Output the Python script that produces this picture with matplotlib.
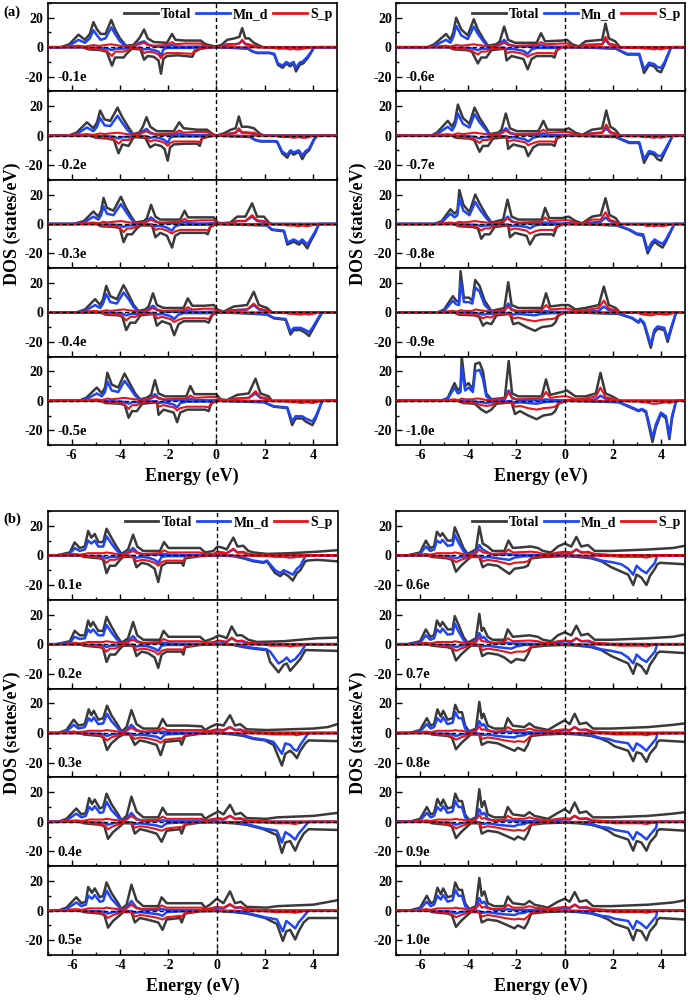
import matplotlib
matplotlib.use("Agg")
import matplotlib.pyplot as plt
from matplotlib.ticker import MultipleLocator
from matplotlib.lines import Line2D

plt.rcParams['font.family'] = ['Liberation Serif', 'DejaVu Serif']
plt.rcParams['font.weight'] = 'bold'
plt.rcParams['axes.unicode_minus'] = False

# ---------------- data: rows are [Energy, Total, Mn_d, S_p] ----------------
labels_a_left = ["-0.1e", "-0.2e", "-0.3e", "-0.4e", "-0.5e"]
labels_a_right = ["-0.6e", "-0.7e", "-0.8e", "-0.9e", "-1.0e"]
labels_b_left = ["0.1e", "0.2e", "0.3e", "0.4e", "0.5e"]
labels_b_right = ["0.6e", "0.7e", "0.8e", "0.9e", "1.0e"]
legend_labels = ["Total", "Mn_d", "S_p"]

spin_up = {}
spin_dn = {}

spin_up["-0.1e"] = [[-7,0,0,0],[-6.45,0,0,0],[-6.1,2,1,0.5],[-5.72,8.5,5,1],[-5.45,5,3,0.5],[-5.25,9,6,1],[-5.1,17,11.5,1.5],[-4.95,12,8,1],[-4.8,9,5,1],[-4.6,9,6,1.5],[-4.36,18.5,13.5,2],[-4.2,12,9,1.5],[-4.0,6,4,1],[-3.75,1,0.5,0.5],[-3.45,1.5,0.5,1],[-3.2,6,3,2],[-3.0,12,4,3],[-2.85,6,2,1.5],[-2.6,3.5,0.5,1],[-2.05,3,0.3,1.5],[-1.84,9,1.5,3.5],[-1.7,5,0.5,2],[-1.3,4.5,0.3,2.5],[-0.65,4.5,0.5,2.5],[-0.45,2,0.2,1],[-0.05,0.5,0,0],[0.2,1.5,0.5,0.5],[0.45,5,2,1.5],[0.75,6,2,2],[0.95,7,2.5,2.5],[1.07,13,4.5,5],[1.2,6,2,2.5],[1.35,6,1.5,2],[1.55,3,0.5,1],[1.8,1,0.2,0.3],[1.95,0,0,0],[5,0,0,0]]
spin_dn["-0.1e"] = [[-7,0,0,0],[-5.55,0,0,0],[-5.3,-1.5,-0.3,-1],[-4.8,-2,-0.5,-1.5],[-4.55,-3,-0.8,-2.5],[-4.33,-12.5,-2,-6],[-4.2,-7,-1,-3],[-3.85,-7,-1,-3],[-3.7,-4,-0.5,-2],[-3.5,-1,-0.2,-0.5],[-3.15,-1.5,-0.3,-1],[-3.0,-8.5,-1.5,-4],[-2.85,-6,-1,-3],[-2.6,-6.5,-2,-3.5],[-2.4,-9,-3,-5],[-2.3,-18,-6,-7.5],[-2.2,-8,-1.5,-5],[-2.05,-6,-0.5,-4],[-1.6,-5.5,-0.5,-4],[-1.0,-6.5,-0.5,-4.5],[-0.9,-3,-0.2,-2],[-0.65,-1,0,-0.5],[-0.1,0,0,0],[0.7,-0.5,-0.3,0],[1.3,-1,-0.8,0],[1.5,-3,-2.8,0],[1.7,-4,-3.7,-0.2],[2.2,-4,-3.7,-0.3],[2.4,-5,-4.5,-0.5],[2.55,-12,-11,-1],[2.75,-14,-12.5,-1],[2.9,-11,-10,-1],[3.05,-13,-11.5,-1.5],[3.2,-11,-10,-1],[3.3,-16.5,-14,-1.5],[3.45,-12,-10.5,-1.5],[3.6,-11,-9.5,-1],[3.8,-7,-6,-0.5],[3.95,-3,-2.5,-0.2],[4.05,0,0,0],[5,0,0,0]]

spin_up["-0.2e"] = [[-7,0,0,0],[-6.13,0,0,0],[-5.8,2,1,0.5],[-5.37,9,5.5,1],[-5.1,5,3,0.5],[-4.95,9,6,1],[-4.82,17,12,1.5],[-4.64,11,7,1],[-4.4,10,6.5,1.5],[-4.1,19,13.5,2],[-3.92,13,9,1.5],[-3.7,7,4,1],[-3.46,1,0.5,0.5],[-3.2,2,0.5,1],[-3.05,6,3,2],[-2.9,12.5,4.5,3],[-2.74,6,2,1.5],[-2.47,3,0.5,1],[-1.77,3,0.3,1.5],[-1.54,9,1.5,3.5],[-1.36,5,0.5,2],[-0.8,4,0.3,2.5],[-0.39,4,0.5,2.5],[-0.15,1,0.2,0.5],[0,0,0,0],[0.3,1.5,0.5,0.5],[0.6,4,1.5,1.5],[0.8,5,2,2],[0.93,13,4,5],[1.05,6,2,2.5],[1.3,6,2,2],[1.55,5,1,2],[1.83,1,0.2,0.3],[2.0,0,0,0],[5,0,0,0]]
spin_dn["-0.2e"] = [[-7,0,0,0],[-5.2,0,0,0],[-5.0,-1.5,-0.3,-1],[-4.5,-2,-0.5,-1.5],[-4.25,-3,-0.8,-2.5],[-4.06,-12,-2,-5.5],[-3.9,-6,-1,-3],[-3.64,-7,-1,-3],[-3.5,-3,-0.5,-1.5],[-3.43,-1,-0.2,-0.5],[-2.95,-1.5,-0.3,-1],[-2.75,-8,-1.5,-4],[-2.55,-6,-1,-3],[-2.3,-7,-2,-4],[-2.15,-9,-3,-5],[-2.02,-17,-5,-7],[-1.92,-8,-1.5,-5],[-1.77,-6,-0.5,-4],[-1.3,-5.5,-0.5,-4],[-0.8,-5.5,-0.5,-4],[-0.69,-7,-0.5,-4.5],[-0.6,-2,-0.2,-1.5],[-0.3,-0.5,0,-0.2],[0,0,0,0],[0.8,-0.5,-0.3,0],[1.4,-1,-0.8,0],[1.6,-3,-2.8,0],[1.83,-4,-3.7,-0.2],[2.4,-4,-3.7,-0.3],[2.52,-4.5,-4,-0.5],[2.73,-12,-11,-1],[2.94,-15,-13,-1],[3.07,-11,-10,-1],[3.2,-13,-11.5,-1.5],[3.42,-11,-10,-1],[3.56,-16,-13.5,-1.5],[3.7,-12,-10.5,-1.5],[3.84,-10,-9,-1],[4.04,-3,-2.5,-0.2],[4.18,0,0,0],[5,0,0,0]]

spin_up["-0.3e"] = [[-7,0,0,0],[-5.93,0,0,0],[-5.5,2,1,0.5],[-5.1,8.5,5,1],[-4.9,5,3,0.5],[-4.78,9,6,1],[-4.68,17.7,12,1.5],[-4.54,11,7,1],[-4.27,9,6,1.5],[-3.96,18.5,13.5,2],[-3.78,12,9,1.5],[-3.57,6,4,1],[-3.37,1,0.5,0.5],[-3.0,2,0.5,1],[-2.88,4,2,1.5],[-2.71,13,4.5,3],[-2.53,5,2,1.5],[-2.33,3,0.5,1],[-1.5,3,0.3,1.5],[-1.32,9,1.5,3.5],[-1.18,4.5,0.5,2],[-0.6,4.5,0.3,2.5],[-0.11,4.5,0.5,2.5],[0.05,1,0.2,0.5],[0.2,0.5,0.1,0.2],[0.58,1,0.5,0.5],[0.86,5,2,2],[1.2,5,2,2],[1.48,14,5,6],[1.69,5,2,2.5],[1.97,5,1.5,2],[2.17,1,0.2,0.3],[2.3,0,0,0],[5,0,0,0]]
spin_dn["-0.3e"] = [[-7,0,0,0],[-4.96,0,0,0],[-4.8,-1.5,-0.3,-1],[-4.2,-2,-0.5,-1.5],[-4.0,-3,-0.8,-2.5],[-3.85,-12.3,-2,-5.5],[-3.7,-7,-1,-3],[-3.5,-7,-1,-3],[-3.3,-3,-0.5,-1.5],[-3.15,-1,-0.2,-0.5],[-2.67,-1,-0.3,-1],[-2.53,-9,-1.5,-4],[-2.33,-6,-1,-3],[-2.05,-8,-2.5,-4.5],[-1.84,-16,-4.5,-6.5],[-1.71,-8,-1.5,-5],[-1.5,-6,-0.5,-4],[-0.46,-6,-0.5,-4],[-0.36,-7,-0.5,-4.5],[-0.25,-2,-0.2,-1.5],[0,0,0,0],[1.0,-0.5,-0.3,0],[2.1,-1,-0.8,0],[2.3,-4,-3.7,-0.2],[2.8,-5,-4.5,-0.5],[2.94,-14,-12.5,-1],[3.21,-12,-10.5,-1],[3.42,-14,-12.5,-1.5],[3.56,-12,-10.5,-1],[3.77,-16.5,-14,-1.5],[3.9,-12,-10.5,-1],[4.1,-6,-5,-0.5],[4.25,0,0,0],[5,0,0,0]]

spin_up["-0.4e"] = [[-7,0,0,0],[-5.8,0,0,0],[-5.45,2,1,0.5],[-5.03,9,5,1],[-4.82,5,3,0.5],[-4.7,9,6,1],[-4.57,18,12.5,1.5],[-4.4,11,7,1],[-4.13,9,6,1.5],[-3.85,18.5,13.5,2],[-3.64,12,9,1.5],[-3.43,5,3.5,1],[-3.23,1,0.5,0.5],[-2.95,2,0.5,1],[-2.81,4,2,1.5],[-2.63,13,4.5,3],[-2.47,5,2,1.5],[-2.19,3,0.5,1],[-1.36,3,0.3,1.5],[-1.19,9.5,1.5,3.5],[-1.0,4.5,0.5,2],[-0.5,4.5,0.3,2.5],[-0.1,5,0.5,2.5],[0.03,2,0.2,0.8],[0.3,0.5,0.1,0.2],[0.72,4,1.5,1.5],[1.27,5,2,2],[1.55,14,5,6],[1.76,5,2,2.5],[2.1,3,1,1.5],[2.3,0,0,0],[5,0,0,0]]
spin_dn["-0.4e"] = [[-7,0,0,0],[-4.82,0,0,0],[-4.6,-1.5,-0.3,-1],[-4.06,-2,-0.5,-1.5],[-3.9,-3,-0.8,-2.5],[-3.74,-12,-2,-5.5],[-3.57,-7,-1,-3],[-3.36,-7,-1,-3],[-3.15,-2,-0.5,-1],[-2.6,-1,-0.3,-1],[-2.47,-9,-1.5,-4],[-2.26,-6,-1,-3],[-1.91,-8,-2.5,-4.5],[-1.75,-15.5,-4.5,-6.5],[-1.57,-8,-1.5,-5],[-1.36,-6,-0.5,-4],[-0.46,-6,-0.5,-4],[-0.32,-7,-0.5,-4.5],[-0.18,-2,-0.2,-1.5],[0,0,0,0],[1.0,-0.5,-0.3,0],[2.1,-1.5,-1.2,0],[2.38,-4,-3.7,-0.3],[2.87,-5,-4.5,-0.5],[3.07,-15,-13,-1],[3.21,-12,-10.5,-1],[3.49,-12,-10.5,-1.5],[3.7,-14,-12,-1],[3.84,-16,-13.5,-1.5],[3.98,-12,-10.5,-1],[4.25,-4,-3,-0.3],[4.39,0,0,0],[5,0,0,0]]

spin_up["-0.5e"] = [[-7,0,0,0],[-5.72,0,0,0],[-5.4,2,1,0.5],[-4.96,9,5,1],[-4.75,5,3,0.5],[-4.62,9,6,1],[-4.52,19,13,1.5],[-4.34,11,7,1],[-4.07,9,6,1.5],[-3.81,18.5,13.5,2],[-3.6,12,9,1.5],[-3.37,5,3.5,1],[-3.16,1,0.5,0.5],[-2.9,2,0.5,1],[-2.71,4,2,1.5],[-2.55,14,4.5,3],[-2.4,5,2,1.5],[-2.13,3,0.5,1],[-1.25,3,0.3,1.5],[-1.08,10,1.5,3.5],[-0.91,4.5,0.5,2],[-0.3,4.5,0.3,2.5],[0,4.5,0.5,2.5],[0.17,1,0.2,0.5],[0.44,0.5,0.1,0.2],[0.86,4,1.5,1.5],[1.34,5,2,2],[1.62,15,5,6.5],[1.83,5,2,2.5],[2.17,3,1,1.5],[2.3,0,0,0],[5,0,0,0]]
spin_dn["-0.5e"] = [[-7,0,0,0],[-4.82,0,0,0],[-4.6,-1.5,-0.3,-1],[-3.98,-2,-0.5,-1.5],[-3.8,-3,-0.8,-2.5],[-3.64,-11.5,-2,-5.5],[-3.5,-7,-1,-3],[-3.3,-7,-1,-3],[-3.08,-2,-0.5,-1],[-2.46,-1,-0.3,-1],[-2.4,-9.5,-1.5,-4],[-2.19,-6,-1,-3],[-1.77,-8,-2.5,-4.5],[-1.63,-14.5,-4.5,-6.5],[-1.5,-8,-1.5,-5],[-1.22,-6,-0.5,-4],[-0.46,-6,-0.5,-4],[-0.32,-7,-0.5,-4.5],[-0.22,-2,-0.2,-1.5],[0,0,0,0],[1.0,-0.5,-0.3,0],[1.97,-1,-0.8,0],[2.38,-4,-3.7,-0.3],[2.94,-5,-4.5,-0.5],[3.14,-16.5,-14,-1],[3.28,-12,-10.5,-1],[3.56,-12,-10.5,-1.5],[3.7,-14,-12,-1],[3.98,-16.5,-14,-1.5],[4.12,-12,-10.5,-1],[4.39,0,0,0],[5,0,0,0]]

spin_up["-0.6e"] = [[-7,0,0,0],[-5.69,0,0,0],[-5.41,2,1,0.5],[-4.92,9,5,1],[-4.74,5,3,0.5],[-4.62,10,7,1],[-4.5,20,14.5,1.5],[-4.29,12,8,1],[-4.02,8,5.5,1.5],[-3.77,19,14,2],[-3.6,12,9,1.5],[-3.35,5,3.5,1],[-3.18,1,0.5,0.5],[-2.83,2,0.5,1],[-2.69,4,2,1.5],[-2.51,14,5,3],[-2.34,5,2,1.5],[-2.06,3,0.5,1],[-1.16,3,0.3,1.5],[-0.98,9.5,1.5,3.5],[-0.81,4,0.5,2],[-0.11,4.5,0.3,2.5],[0.1,5,0.5,2.5],[0.31,2,0.2,0.8],[0.59,0.5,0.1,0.2],[0.87,4,1.5,1.5],[1.56,5,2,2],[1.7,16,5,7],[1.84,6,2,2.5],[2.1,4,1,1.5],[2.3,0,0,0],[5,0,0,0]]
spin_dn["-0.6e"] = [[-7,0,0,0],[-4.82,0,0,0],[-4.6,-1.5,-0.3,-1],[-4.04,-2,-0.5,-1.5],[-3.85,-3,-0.8,-2.5],[-3.6,-11,-2,-5],[-3.46,-7,-1,-3],[-3.25,-7,-1,-3],[-3.04,-2,-0.5,-1],[-2.48,-1,-0.3,-1],[-2.41,-9,-1.5,-4],[-2.2,-6,-1,-3],[-1.71,-8,-2.5,-4.5],[-1.53,-15,-4.5,-6.5],[-1.37,-8,-1.5,-5],[-1.16,-6,-0.5,-4],[-0.53,-6,-0.5,-4],[-0.42,-7,-0.5,-4.5],[-0.32,-2,-0.2,-1.5],[-0.1,0,0,0],[1.0,-0.3,-0.2,0],[2.12,-1,-0.8,0],[2.6,-5,-4.5,-0.5],[3.1,-5,-4.5,-0.5],[3.3,-17.5,-15,-1],[3.51,-12,-10.5,-1],[3.72,-13,-11.5,-1.5],[3.86,-16,-13.5,-1],[4.0,-17,-14,-1.5],[4.14,-12,-10.5,-1],[4.42,0,0,0],[5,0,0,0]]

spin_up["-0.7e"] = [[-7,0,0,0],[-5.55,0,0,0],[-5.3,2,1,0.5],[-4.85,10,6,1],[-4.67,6,3.5,0.5],[-4.55,10,7,1],[-4.43,21,15,1.5],[-4.22,12,8,1],[-3.95,8,5.5,1.5],[-3.74,19,14.5,2],[-3.53,12,9,1.5],[-3.25,5,3.5,1],[-3.11,1,0.5,0.5],[-2.76,2,0.5,1],[-2.62,4,2,1.5],[-2.44,15,5,3.5],[-2.27,5,2,1.5],[-1.99,3,0.5,1],[-1.09,3,0.3,1.5],[-0.88,10,1.5,4],[-0.71,4,0.5,2],[0.03,4,0.3,2.5],[0.17,5,0.5,2.5],[0.45,2,0.2,0.8],[0.73,0.5,0.1,0.2],[1.14,4,1.5,1.5],[1.56,5,2,2],[1.73,17,5,7.5],[1.9,6,2,2.5],[2.1,4,1,1.5],[2.3,0,0,0],[5,0,0,0]]
spin_dn["-0.7e"] = [[-7,0,0,0],[-4.68,0,0,0],[-4.5,-1.5,-0.3,-1],[-3.95,-2,-0.5,-1.5],[-3.75,-3,-0.8,-2.5],[-3.53,-11,-2,-5],[-3.39,-7,-1,-3],[-3.18,-7,-1,-3],[-2.97,-2,-0.5,-1],[-2.41,-1,-0.3,-1],[-2.34,-9,-1.5,-4],[-2.13,-6,-1,-3],[-1.65,-8,-2.5,-4.5],[-1.51,-14,-4,-6.5],[-1.3,-8,-1.5,-5],[-1.09,-6,-0.5,-4],[-0.53,-6,-0.5,-4],[-0.42,-7,-0.5,-4.5],[-0.32,-2,-0.2,-1.5],[-0.05,0,0,0],[1.0,-0.3,-0.2,0],[2.12,-1,-0.8,0],[2.68,-5,-4.5,-0.5],[3.1,-5,-4.5,-0.5],[3.3,-18.5,-16,-1],[3.51,-12,-10.5,-1],[3.72,-13,-11.5,-1.5],[3.86,-16,-13.5,-1],[4.0,-17,-14,-1.5],[4.14,-12,-10.5,-1],[4.49,0,0,0],[5,0,0,0]]

spin_up["-0.8e"] = [[-7,0,0,0],[-5.41,0,0,0],[-5.1,2,1,0.5],[-4.74,10,7,1],[-4.57,7,4.5,0.5],[-4.45,9,6,1],[-4.37,23,17,1.5],[-4.2,13,9,1],[-3.95,8,6,1.5],[-3.71,20,15,2],[-3.53,14,10,1.5],[-3.25,6,4,1],[-3.04,1,0.5,0.5],[-2.55,3,1,1.5],[-2.37,16.5,5,4],[-2.2,5,2,1.5],[-1.92,3,0.5,1],[-0.95,3,0.3,1.5],[-0.81,11,1,4.5],[-0.64,4,0.5,2],[-0.11,4,0.3,2.5],[0.17,5,0.5,2.5],[0.45,2,0.2,0.8],[0.73,0.5,0.1,0.2],[1.14,5,1,3],[1.5,6,1.5,3],[1.7,17.5,4.5,8],[1.87,6,2,3],[2.12,4,1,1.5],[2.3,0,0,0],[5,0,0,0]]
spin_dn["-0.8e"] = [[-7,0,0,0],[-4.6,0,0,0],[-4.4,-1.5,-0.3,-1],[-3.81,-2,-0.5,-1.5],[-3.6,-3,-0.8,-2.5],[-3.46,-10,-1.5,-4.5],[-3.32,-7,-1,-3],[-3.11,-7,-1,-3],[-2.9,-2,-0.5,-1],[-2.34,-1,-0.3,-1],[-2.27,-9,-1.5,-4],[-2.06,-6,-1,-3],[-1.58,-8,-2,-4.5],[-1.44,-14,-3,-6.5],[-1.23,-8,-1,-5],[-1.02,-7,-0.5,-4],[-0.53,-7,-0.5,-4],[-0.46,-8,-0.5,-4.5],[-0.32,-2,-0.2,-1.5],[-0.05,0,0,0],[1.0,-0.3,-0.2,0],[2.18,-1,-0.8,0],[2.68,-4,-3.7,-0.3],[3.0,-7,-6.5,-0.5],[3.26,-8,-7,-0.5],[3.45,-20,-18,-1.5],[3.6,-15,-13,-1],[3.74,-12,-10.5,-1.5],[3.88,-14,-12,-1],[4.07,-16,-13.5,-1.5],[4.21,-12,-10.5,-1],[4.56,0,0,0],[5,0,0,0]]

spin_up["-0.9e"] = [[-7,0,0,0],[-5.27,0,0,0],[-5.0,2,1,0.5],[-4.64,11,8,1],[-4.5,8,5.5,0.5],[-4.38,7,5,1],[-4.32,28,21,1.5],[-4.18,10,7,1],[-3.97,10,7,1],[-3.83,8,6,1],[-3.71,22,17,2],[-3.53,18,14,1.5],[-3.32,8,5,1],[-3.04,1,0.5,0.5],[-2.5,3,1,1.5],[-2.34,20.5,6,4],[-2.2,5,2,1.5],[-1.92,3,0.5,1],[-0.95,3,0.3,1.5],[-0.77,13,1,5],[-0.6,4,0.5,2],[-0.11,5,0.3,2.5],[0.17,5,0.5,2.5],[0.45,2,0.2,0.8],[0.87,3,0.5,1.5],[1.42,5,1,3],[1.63,17.5,4,8],[1.84,5,1.5,2.5],[2.12,3,1,1.5],[2.3,0,0,0],[5,0,0,0]]
spin_dn["-0.9e"] = [[-7,0,0,0],[-4.6,0,0,0],[-4.4,-1.5,-0.3,-1],[-3.73,-2,-0.5,-1.5],[-3.55,-3,-0.8,-2.5],[-3.39,-9,-1.5,-4],[-3.25,-7,-1,-3],[-3.04,-8,-1,-3.5],[-2.83,-2,-0.5,-1],[-2.27,-1,-0.3,-1],[-2.13,-8,-1.5,-4],[-1.92,-7,-1,-3.5],[-1.58,-10,-1.5,-5],[-1.23,-12.5,-2,-6],[-0.95,-10,-1,-5],[-0.53,-9,-0.5,-4.5],[-0.39,-7,-0.5,-4],[-0.25,-2,-0.2,-1.5],[0.03,0,0,0],[1.0,-0.3,-0.2,0],[2.25,-1,-0.8,0],[2.8,-4,-3.7,-0.3],[3.07,-7,-6.5,-0.5],[3.14,-5,-4.5,-1],[3.3,-8,-7,-1.5],[3.58,-24,-22,-2],[3.72,-14,-12,-1.5],[3.86,-11,-9.5,-1],[4.14,-12,-10.5,-1.5],[4.28,-20,-18,-1.5],[4.42,-12,-10.5,-1],[4.63,0,0,0],[5,0,0,0]]

spin_up["-1.0e"] = [[-7,0,0,0],[-5.13,0,0,0],[-4.85,2,1.5,0.5],[-4.57,12,9,1],[-4.43,7,5,0.5],[-4.32,9,6,1],[-4.27,30,23,1.5],[-4.13,10,7,1],[-3.99,12,9,1],[-3.81,8,6,1],[-3.71,25,20,1.5],[-3.53,26,21,1.5],[-3.39,20,15,1],[-3.25,5,3,0.5],[-3.04,1,0.5,0.5],[-2.48,2,1,1.5],[-2.32,27,7,6],[-2.18,5,2,1.5],[-1.92,3,0.5,1],[-0.95,3,0.3,1.5],[-0.77,14.5,1,6],[-0.6,4,0.5,2],[-0.11,6,0.3,3],[0.1,7,0.5,3],[0.45,3,0.2,1],[0.87,3,0.5,1.5],[1.3,5,1,3],[1.49,19,3.5,9],[1.7,5,1.5,2.5],[1.98,3,1,1.5],[2.3,0,0,0],[5,0,0,0]]
spin_dn["-1.0e"] = [[-7,0,0,0],[-4.46,0,0,0],[-4.2,-1.5,-0.3,-1],[-3.73,-2,-0.5,-1.5],[-3.45,-6,-1,-3],[-3.25,-8,-1.5,-3.5],[-3.04,-6,-1,-3],[-2.83,-2,-0.5,-1],[-2.2,-1,-0.3,-1],[-2.06,-9,-1.5,-4],[-1.85,-7,-1,-3.5],[-1.51,-10,-1.5,-5],[-1.16,-12.5,-2,-6],[-0.88,-10,-1,-5],[-0.53,-9,-0.5,-4.5],[-0.39,-7,-0.5,-4],[-0.25,-2,-0.2,-1.5],[0.03,0,0,0],[1.0,-0.3,-0.2,0],[2.25,-1,-0.8,0],[2.8,-5,-4.5,-0.5],[3.07,-7,-6.5,-0.5],[3.21,-6,-5.5,-1],[3.38,-8,-7,-1],[3.65,-28,-25,-2],[3.79,-18,-16,-2],[4.0,-9,-8,-1.5],[4.21,-12,-10.5,-1],[4.35,-26,-24,-1.5],[4.46,-12,-10.5,-1],[4.63,0,0,0],[5,0,0,0]]

spin_up["0.1e"] = [[-7,0,0,0],[-6.64,0,0,0],[-6.08,2,1,0.5],[-5.88,8.8,5,1],[-5.67,5,3,0.5],[-5.46,6,4,1],[-5.32,16.5,10,1.5],[-5.19,12,8,1.5],[-5.05,14.5,10,1.5],[-4.9,9,6,1.5],[-4.7,9,6,1.5],[-4.56,18,13,2],[-4.36,12,8,1.5],[-4.15,6,3.5,1],[-3.94,1,0.5,0.5],[-3.67,4,2,1.5],[-3.46,14,5,3],[-3.29,6,2,1.5],[-3.04,3,0.5,1],[-2.35,3,0.5,1.5],[-2.18,9,1,3.5],[-2.0,5,0.5,2],[-1.25,5,0.3,2],[-0.69,5,0.3,2],[-0.48,2,0.2,1],[-0.14,3,0.5,1],[0.03,6,2,2.5],[0.28,5,1.5,2],[0.41,4,1.5,1.5],[0.69,12,4,4.5],[0.86,6,2,2],[1.1,6.5,2,2.5],[1.31,3,0.5,1],[1.52,2,0.3,0.5],[2.07,1,0,0.2],[3.04,1.5,0,0.2],[4.15,2.5,0,0.2],[5,3.5,0,0.2]]
spin_dn["0.1e"] = [[-7,0,0,0],[-5.67,0,0,0],[-5.5,-1,-0.3,-0.5],[-4.83,-2,-0.5,-1.5],[-4.7,-3,-0.8,-2.5],[-4.56,-12,-2,-5],[-4.42,-7,-1,-3],[-4.2,-7,-1,-3],[-4.0,-3,-0.5,-1.5],[-3.87,-1,-0.2,-0.5],[-3.46,-1,-0.3,-1],[-3.32,-8,-1.5,-4],[-3.11,-5,-1,-3],[-2.84,-6,-1.5,-3.5],[-2.57,-9,-3,-5],[-2.42,-18,-5,-7],[-2.28,-7,-1,-4.5],[-2.07,-5,-0.5,-3.5],[-1.45,-5,-0.5,-3.5],[-1.38,-7,-0.5,-4],[-1.31,-2,-0.2,-1.5],[-0.69,-0.5,0,-0.3],[0,0,0,0],[0.69,-0.5,-0.3,0],[1.11,-2,-1.5,-0.2],[1.52,-4,-3.5,-0.3],[1.94,-5,-4.5,-0.5],[2.08,-4,-3.5,-0.5],[2.42,-12,-10,-1],[2.63,-14,-12,-1],[2.77,-12,-10,-1],[2.97,-14,-11.5,-1.5],[3.15,-17,-13,-1.5],[3.32,-12,-9,-1],[3.46,-10,-7,-1],[3.67,-4,-0.5,-0.5],[3.75,-3.5,0,-0.3],[4.15,-3,0,-0.2],[5,-4,0,-0.2]]

spin_up["0.2e"] = [[-7,0,0,0],[-6.64,0,0,0],[-6.08,2,1,0.5],[-5.88,9,5,1],[-5.67,6,3.5,0.5],[-5.46,6,4,1],[-5.32,16,10,1.5],[-5.22,12,8,1.5],[-5.12,15,10,1.5],[-4.9,9,6,1.5],[-4.7,9,6,1.5],[-4.56,18.5,13,2],[-4.36,12,8,1.5],[-4.15,6,3.5,1],[-3.94,1,0.5,0.5],[-3.67,4,2,1.5],[-3.46,15,5.5,3],[-3.29,6,2,1.5],[-3.04,3,0.5,1],[-2.35,3,0.5,1.5],[-2.2,9,1,3.5],[-2.0,5,0.5,2],[-1.25,5,0.3,2],[-0.69,5,0.3,2],[-0.48,2,0.2,1],[-0.14,4,0.5,1.5],[0.07,6,2,2.5],[0.28,5,1.5,2],[0.41,4,1.5,1.5],[0.62,12,4,4.5],[0.83,6,2,2],[1.04,6,2,2.5],[1.31,3,0.5,1],[1.66,1.5,0.2,0.5],[2.76,2,0,0.2],[4.15,4,0,0.2],[5,4.5,0,0.2]]
spin_dn["0.2e"] = [[-7,0,0,0],[-5.67,0,0,0],[-5.5,-1,-0.3,-0.5],[-4.83,-2,-0.5,-1.5],[-4.7,-3,-0.8,-2.5],[-4.56,-12,-2,-5],[-4.42,-7,-1,-3],[-4.2,-7,-1,-3],[-4.0,-3,-0.5,-1.5],[-3.87,-1,-0.2,-0.5],[-3.46,-1,-0.3,-1],[-3.32,-8,-1.5,-4],[-3.11,-5,-1,-3],[-2.84,-6,-1.5,-3.5],[-2.57,-9,-3,-5],[-2.42,-16,-4.5,-7],[-2.28,-7,-1,-4.5],[-2.07,-5,-0.5,-3.5],[-1.45,-5,-0.5,-3.5],[-1.38,-7,-0.5,-4],[-1.31,-2,-0.2,-1.5],[-0.69,-0.5,0,-0.3],[0,0,0,0],[0.69,-0.5,-0.3,0],[1.11,-2,-1.5,-0.2],[1.52,-3,-2.5,-0.3],[2.07,-4,-3.5,-0.5],[2.21,-12,-5,-1],[2.56,-19,-13,-1],[2.77,-14,-11,-1],[2.9,-13,-9,-1],[3.04,-18,-12,-1.5],[3.25,-14,-10,-1],[3.46,-10,-6,-1],[3.67,-4,-0.5,-0.5],[3.75,-4,0,-0.3],[5,-4.5,0,-0.2]]

spin_up["0.3e"] = [[-7,0,0,0],[-6.57,0,0,0],[-6.22,2,1,0.5],[-5.92,9,5.5,1],[-5.72,5,3,0.5],[-5.46,6,4,1],[-5.3,16,10,1.5],[-5.19,12,8,1.5],[-5.09,15,10.5,1.5],[-4.9,9,6,1.5],[-4.7,10,6.5,1.5],[-4.54,18.5,13,2],[-4.36,12,8,1.5],[-4.08,5,3,1],[-3.94,1,0.5,0.5],[-3.73,4,2,1.5],[-3.53,15.5,5.5,3.5],[-3.32,6,2,1.5],[-3.04,3,0.5,1],[-2.42,3,0.5,1.5],[-2.24,9.5,1,3.5],[-2.07,5,0.5,2],[-1.25,5,0.3,2],[-0.62,4.5,0.3,2],[-0.48,2,0.2,1],[-0.28,4,0.5,1.5],[0,6,2,2.5],[0.28,5,1.5,2],[0.55,12,4,4],[0.76,5,2,2],[0.97,6,2,2.5],[1.24,2.5,0.5,1],[2.07,2,0.1,0.3],[4.0,3,0,0.2],[4.6,4,0,0.2],[5,6,0,0.2]]
spin_dn["0.3e"] = [[-7,0,0,0],[-5.67,0,0,0],[-5.5,-1,-0.3,-0.5],[-4.83,-2,-0.5,-1.5],[-4.7,-3,-0.8,-2.5],[-4.54,-11.5,-2,-5],[-4.36,-7,-1,-3],[-4.08,-3,-0.5,-1.5],[-3.87,-1,-0.2,-0.5],[-3.6,-1,-0.3,-1],[-3.39,-8,-1.5,-4],[-3.18,-5,-1,-3],[-2.9,-6,-1.5,-3.5],[-2.49,-8,-2.5,-5],[-2.32,-15,-4,-6.5],[-2.14,-6,-1,-4.5],[-1.52,-5,-0.5,-3.5],[-1.45,-8,-0.5,-4],[-1.31,-2,-0.2,-1.5],[-0.69,-0.5,0,-0.3],[0,0,0,0],[0.69,-1,-0.5,0],[1.11,-2,-1.5,-0.2],[1.52,-4,-3.5,-0.3],[2.0,-5,-4.5,-0.5],[2.35,-8,-6,-1],[2.7,-22,-14,-1],[2.84,-14,-7,-1],[3.04,-12,-8,-1],[3.18,-14,-11,-1],[3.32,-17,-12,-1.5],[3.46,-12,-8,-1],[3.67,-7,-3,-0.5],[3.8,-5,0,-0.3],[5,-5.5,0,-0.2]]

spin_up["0.4e"] = [[-7,0,0,0],[-6.57,0,0,0],[-6.22,2,1,0.5],[-5.81,9,5.5,1],[-5.6,5,3,0.5],[-5.42,6,4,1],[-5.28,16,10,1.5],[-5.16,12,8,1.5],[-5.05,15,10.5,1.5],[-4.84,9,6,1.5],[-4.7,10,6.5,1.5],[-4.56,19,13.5,2],[-4.36,12,8,1.5],[-4.08,5,3,1],[-3.94,1,0.5,0.5],[-3.73,4,2,1.5],[-3.53,17,6,4],[-3.32,7,2,1.5],[-3.04,3,0.5,1],[-2.42,3,0.5,1.5],[-2.24,9.5,1,3.5],[-2.07,5,0.5,2],[-1.25,5,0.3,2],[-0.62,5,0.3,2],[-0.48,2,0.2,1],[-0.28,4,0.5,1.5],[0.07,7,2,2.5],[0.28,5,1.5,2],[0.55,11.5,4,4],[0.76,5,2,2],[1.0,6,2,2.5],[1.24,2.5,0.5,1],[2.07,2,0.1,0.3],[2.5,3,0,0.2],[4.0,4,0,0.2],[5,6,0,0.2]]
spin_dn["0.4e"] = [[-7,0,0,0],[-5.67,0,0,0],[-5.5,-1,-0.3,-0.5],[-4.83,-2,-0.5,-1.5],[-4.65,-3,-0.8,-2.5],[-4.5,-11.5,-2,-5],[-4.29,-7,-1,-3],[-4.0,-3,-0.5,-1.5],[-3.87,-1,-0.2,-0.5],[-3.53,-1,-0.3,-1],[-3.39,-8,-1.5,-4],[-3.18,-5,-1,-3],[-2.9,-6,-1.5,-3.5],[-2.49,-8,-2.5,-5],[-2.28,-13.5,-3.5,-6],[-2.07,-6,-1,-4.5],[-1.52,-5,-0.5,-3.5],[-1.45,-8,-0.5,-4],[-1.31,-2,-0.2,-1.5],[-0.69,-0.5,0,-0.3],[0,-0.3,0,0],[0.69,-1,-0.5,0],[1.24,-2,-1.5,-0.2],[1.94,-5,-4.5,-0.5],[2.49,-9,-6,-1],[2.7,-21,-14,-1],[2.84,-14,-7,-1],[3.04,-13,-9,-1],[3.25,-19.5,-12,-1.5],[3.39,-14,-8,-1],[3.6,-8,-4,-0.5],[3.8,-5,0,-0.3],[5,-5.5,0,-0.2]]

spin_up["0.5e"] = [[-7,0,0,0],[-6.57,0,0,0],[-6.22,2,1,0.5],[-5.81,9,5.5,1],[-5.6,5,3,0.5],[-5.42,6,4,1],[-5.32,16,10,1.5],[-5.16,12,8,1.5],[-5.05,15,10.5,1.5],[-4.84,9,6,1.5],[-4.7,10,6.5,1.5],[-4.56,19,13.5,2],[-4.36,12,8,1.5],[-4.08,5,3,1],[-3.94,1,0.5,0.5],[-3.73,4,2,1.5],[-3.53,17.5,6.5,4],[-3.32,7,2,1.5],[-3.04,3,0.5,1],[-2.42,3,0.5,1.5],[-2.28,9,1,3.5],[-2.07,5,0.5,2],[-1.25,5,0.3,2],[-0.62,5,0.3,2],[-0.48,2,0.2,1],[-0.28,4,0.5,1.5],[0.0,8,2,2.5],[0.28,5,1.5,2],[0.55,13,4,4.5],[0.76,5,2,2],[1.0,6,2,2.5],[1.24,2.5,0.5,1],[2.07,2,0.1,0.3],[2.5,3,0,0.2],[4.0,4,0,0.2],[5,7,0,0.2]]
spin_dn["0.5e"] = [[-7,0,0,0],[-5.67,0,0,0],[-5.5,-1,-0.3,-0.5],[-4.83,-2,-0.5,-1.5],[-4.65,-3,-0.8,-2.5],[-4.5,-11.5,-2,-5],[-4.29,-7,-1,-3],[-4.0,-3,-0.5,-1.5],[-3.87,-1,-0.2,-0.5],[-3.53,-1,-0.3,-1],[-3.39,-8,-1.5,-4],[-3.18,-5,-1,-3],[-2.9,-6,-1.5,-3.5],[-2.42,-8,-2.5,-5],[-2.24,-13,-3.5,-6],[-2.07,-6,-1,-4.5],[-1.52,-5,-0.5,-3.5],[-1.45,-8,-0.5,-4],[-1.31,-2,-0.2,-1.5],[-0.69,-0.5,0,-0.3],[0,-0.3,0,0],[0.69,-1,-0.5,0],[1.24,-2,-1.5,-0.2],[2.0,-5,-4.5,-0.5],[2.49,-9,-6,-1],[2.74,-20.5,-14,-1],[2.88,-14,-7,-1],[3.04,-13,-9,-1],[3.25,-19.5,-12,-1.5],[3.39,-14,-8,-1],[3.6,-8,-4,-0.5],[3.8,-5,0,-0.3],[5,-5,0,-0.2]]

spin_up["0.6e"] = [[-7,0,0,0],[-6.53,0,0,0],[-6.0,2,1,0.5],[-5.76,10,6,1],[-5.58,5,3,0.5],[-5.42,6,4,1],[-5.3,16,10,1.5],[-5.16,13,8.5,1.5],[-5.07,15,10.5,1.5],[-4.86,10,6.5,1.5],[-4.65,10,7,1.5],[-4.56,19,14,2],[-4.4,13,8.5,1.5],[-4.2,5,3,1],[-4.03,1,0.5,0.5],[-3.68,4,2,1.5],[-3.54,19.5,7,4],[-3.4,8,4,2],[-3.19,6,2,1.5],[-2.99,3,0.5,1],[-2.5,3,0.5,1.5],[-2.33,10,1,4],[-2.15,5,0.5,2],[-1.39,6,0.3,2.5],[-1.11,5,0.3,2],[-0.9,3,0.2,1],[-0.56,2,0.2,1],[-0.28,6,1,2],[0,8,2,2.5],[0.28,6,1.5,2],[0.49,12.5,4,4],[0.69,6,2,2],[0.97,7,2,2.5],[1.25,3,0.5,1],[1.94,3,0.1,0.3],[3.47,4,0,0.2],[4.5,5,0,0.2],[5,6.5,0,0.2]]
spin_dn["0.6e"] = [[-7,0,0,0],[-5.72,0,0,0],[-5.5,-1,-0.3,-0.5],[-4.86,-2,-0.5,-1.5],[-4.68,-3,-0.8,-2.5],[-4.51,-11,-2,-4.5],[-4.3,-7,-1,-3],[-4.03,-3,-0.5,-1.5],[-3.89,-1,-0.2,-0.5],[-3.54,-1,-0.3,-1],[-3.4,-8,-1.5,-4],[-3.19,-6,-1,-3],[-2.78,-7,-2,-4],[-2.29,-12.5,-3,-6],[-2.08,-9,-1.5,-5],[-1.67,-8,-0.5,-4.5],[-1.53,-7,-0.5,-4],[-1.39,-2,-0.2,-1.5],[-0.83,-1,0,-0.5],[0,-0.5,0,0],[0.56,-1,-0.5,0],[1.11,-2,-1.5,-0.2],[1.53,-4,-3.5,-0.3],[1.94,-8,-4.5,-0.5],[2.36,-11,-6,-1],[2.64,-13,-9,-1],[2.85,-20,-13,-1],[2.99,-13,-7,-1],[3.19,-15,-10,-1],[3.4,-20,-12,-1.5],[3.54,-14,-9,-1],[3.75,-9,-5,-0.5],[3.85,-6,0,-0.3],[3.96,-5,0,-0.3],[5,-6,0,-0.2]]

spin_up["0.7e"] = [[-7,0,0,0],[-6.53,0,0,0],[-6.0,2,1,0.5],[-5.76,10,6,1],[-5.58,5,3,0.5],[-5.42,6,4,1],[-5.3,16,10,1.5],[-5.16,12,8,1.5],[-5.07,15,10.5,1.5],[-4.86,10,6.5,1.5],[-4.65,10,7,1.5],[-4.56,19,14,2],[-4.4,13,8.5,1.5],[-4.2,5,3,1],[-4.03,1,0.5,0.5],[-3.68,4,2,1.5],[-3.54,20.5,7.5,4.5],[-3.44,9,4,2],[-3.36,11,5,2],[-3.19,5,2,1.5],[-2.99,3,0.5,1],[-2.5,3,0.5,1.5],[-2.36,10,1,4],[-2.15,5,0.5,2],[-1.46,6,0.3,2.5],[-1.11,5,0.3,2],[-0.9,3,0.2,1],[-0.56,2,0.2,1],[-0.28,6,1,2],[0,8,2,2.5],[0.28,6,1.5,2],[0.49,12.5,4,4],[0.69,6,2,2],[0.97,7,2,2.5],[1.25,3,0.5,1],[1.94,3,0.1,0.3],[3.47,4,0,0.2],[4.5,5,0,0.2],[5,6.5,0,0.2]]
spin_dn["0.7e"] = [[-7,0,0,0],[-5.72,0,0,0],[-5.5,-1,-0.3,-0.5],[-4.86,-2,-0.5,-1.5],[-4.68,-3,-0.8,-2.5],[-4.51,-11,-2,-4.5],[-4.3,-7,-1,-3],[-4.03,-3,-0.5,-1.5],[-3.89,-1,-0.2,-0.5],[-3.54,-1,-0.3,-1],[-3.42,-8,-1.5,-4],[-3.19,-6,-1,-3],[-2.78,-7,-2,-4],[-2.5,-9,-2.5,-5],[-2.22,-12.5,-3,-6],[-2.0,-10,-1.5,-5],[-1.67,-11,-0.5,-5],[-1.53,-7,-0.5,-4],[-1.39,-2,-0.2,-1.5],[-0.83,-1,0,-0.5],[0,-0.5,0,0],[0.56,-1,-0.5,0],[1.11,-2,-1.5,-0.2],[1.53,-4,-3.5,-0.3],[1.94,-8,-4.5,-0.5],[2.36,-11,-6,-1],[2.64,-13,-9,-1],[2.85,-20,-13,-1],[2.99,-13,-7,-1],[3.19,-15,-10,-1],[3.4,-20,-12,-1.5],[3.54,-14,-9,-1],[3.75,-9,-5,-0.5],[3.85,-6,0,-0.3],[3.96,-5,0,-0.3],[5,-6,0,-0.2]]

spin_up["0.8e"] = [[-7,0,0,0],[-6.46,0,0,0],[-6.0,2,1,0.5],[-5.72,10,6,1],[-5.56,5,3,0.5],[-5.42,6,4,1],[-5.28,16,10,1.5],[-5.14,11,7.5,1.5],[-5.04,15,10.5,1.5],[-4.86,9,6,1.5],[-4.65,10,7,1.5],[-4.54,19,14,2],[-4.4,14,10,1.5],[-4.26,14,10,1.5],[-4.13,5,3,1],[-3.96,1,0.5,0.5],[-3.68,3,1.5,1.5],[-3.54,21,8,4.5],[-3.44,10,5,2],[-3.36,13,6,2.5],[-3.19,5,2,1.5],[-2.92,3,0.5,1],[-2.5,3,0.5,1.5],[-2.36,10,1,4],[-2.15,5,0.5,2],[-1.67,4,0.3,2],[-1.46,6.5,0.5,3],[-1.25,4,0.3,2],[-0.69,2,0.2,1],[-0.28,6,1,2],[0,8.5,2,2.5],[0.21,6,1.5,2],[0.42,13,4,4],[0.62,6,2,2],[0.9,7,2,2.5],[1.18,3,0.5,1],[1.94,3,0.1,0.3],[3.47,4,0,0.2],[4.5,5.5,0,0.2],[5,6.5,0,0.2]]
spin_dn["0.8e"] = [[-7,0,0,0],[-5.65,0,0,0],[-5.5,-1,-0.3,-0.5],[-4.86,-2,-0.5,-1.5],[-4.68,-3,-0.8,-2.5],[-4.51,-11,-2,-4.5],[-4.3,-7,-1,-3],[-4.03,-3,-0.5,-1.5],[-3.89,-1,-0.2,-0.5],[-3.54,-1,-0.3,-1],[-3.44,-8,-1.5,-4],[-3.19,-6,-1,-3],[-2.78,-7,-2,-4],[-2.5,-9,-2.5,-5],[-2.08,-12,-3,-6],[-1.94,-10,-2,-5.5],[-1.67,-12,-1.5,-6],[-1.53,-8,-0.5,-4],[-1.39,-2,-0.2,-1.5],[-0.83,-1,0,-0.5],[0,-0.5,0,0],[0.56,-1,-0.5,0],[1.11,-2,-1.5,-0.2],[1.53,-4,-3.5,-0.3],[1.81,-6,-4,-0.5],[2.08,-9,-5.5,-1],[2.64,-12,-7,-1],[2.85,-19,-12,-1],[2.99,-13,-7,-1],[3.19,-14,-9,-1],[3.4,-19.5,-12,-1.5],[3.54,-14,-9,-1],[3.8,-9,-4,-0.5],[3.85,-6,0,-0.3],[3.96,-5,0,-0.3],[5,-6,0,-0.2]]

spin_up["0.9e"] = [[-7,0,0,0],[-6.46,0,0,0],[-6.0,2,1,0.5],[-5.72,10,6,1],[-5.56,5,3,0.5],[-5.42,6,4,1],[-5.28,15.5,10,1.5],[-5.14,11,7.5,1.5],[-5.04,15,10.5,1.5],[-4.86,9,6,1.5],[-4.65,10,7,1.5],[-4.54,19,14,2],[-4.4,14,10,1.5],[-4.26,14,10,1.5],[-4.13,5,3,1],[-3.96,1,0.5,0.5],[-3.68,3,1.5,1.5],[-3.54,22,8.5,4.5],[-3.44,10,5,2],[-3.33,14,6,2.5],[-3.19,5,2,1.5],[-2.92,3,0.5,1],[-2.5,3,0.5,1.5],[-2.36,10,1,4],[-2.15,5,0.5,2],[-1.67,4,0.3,2],[-1.46,6.5,0.5,3],[-1.25,4,0.3,2],[-0.69,2,0.2,1],[-0.28,6,1,2],[0,8.5,2,2.5],[0.21,6,1.5,2],[0.42,13,4,4],[0.62,6,2,2],[0.9,7,2,2.5],[1.18,3,0.5,1],[1.94,3,0.1,0.3],[3.47,4,0,0.2],[4.5,5.5,0,0.2],[5,6.5,0,0.2]]
spin_dn["0.9e"] = [[-7,0,0,0],[-5.65,0,0,0],[-5.5,-1,-0.3,-0.5],[-4.86,-2,-0.5,-1.5],[-4.68,-3,-0.8,-2.5],[-4.51,-11,-2,-4.5],[-4.3,-7,-1,-3],[-4.03,-3,-0.5,-1.5],[-3.89,-1,-0.2,-0.5],[-3.54,-1,-0.3,-1],[-3.44,-8,-1.5,-4],[-3.19,-6,-1,-3],[-2.78,-7,-2,-4],[-2.5,-9,-2.5,-5],[-2.08,-12,-3,-6],[-1.94,-10,-2,-5.5],[-1.67,-12,-1.5,-6],[-1.53,-8,-0.5,-4],[-1.39,-2,-0.2,-1.5],[-0.83,-1,0,-0.5],[0,-0.5,0,0],[0.56,-1,-0.5,0],[1.11,-2,-1.5,-0.2],[1.53,-4,-3.5,-0.3],[1.81,-6,-4,-0.5],[2.08,-9,-5.5,-1],[2.64,-12,-7,-1],[2.85,-19.5,-12,-1],[2.99,-13,-7,-1],[3.19,-14,-9,-1],[3.4,-19.5,-12,-1.5],[3.54,-14,-9,-1],[3.8,-9,-4,-0.5],[3.85,-6,0,-0.3],[3.96,-5,0,-0.3],[5,-6,0,-0.2]]

spin_up["1.0e"] = [[-7,0,0,0],[-6.46,0,0,0],[-6.0,2,1,0.5],[-5.72,10,6,1],[-5.56,5,3,0.5],[-5.42,6,4,1],[-5.28,15.5,10,1.5],[-5.14,11,7.5,1.5],[-5.04,15,10.5,1.5],[-4.86,9,6,1.5],[-4.65,10,7,1.5],[-4.54,19,14,2],[-4.4,14,10,1.5],[-4.26,14,10,1.5],[-4.13,5,3,1],[-3.96,1,0.5,0.5],[-3.68,3,1.5,1.5],[-3.54,22,8.5,4.5],[-3.44,10,5,2],[-3.33,13,6,2.5],[-3.19,5,2,1.5],[-2.92,3,0.5,1],[-2.5,3,0.5,1.5],[-2.36,9.5,1,4],[-2.15,5,0.5,2],[-1.67,4,0.3,2],[-1.46,6.5,0.5,3],[-1.25,4,0.3,2],[-0.69,2,0.2,1],[-0.28,6,1,2],[0,8,2,2.5],[0.21,6,1.5,2],[0.42,12.5,4,4],[0.62,6,2,2],[0.9,7,2,2.5],[1.18,3,0.5,1],[1.94,3,0.1,0.3],[3.47,4,0,0.2],[4.5,5.5,0,0.2],[5,7,0,0.2]]
spin_dn["1.0e"] = [[-7,0,0,0],[-5.65,0,0,0],[-5.5,-1,-0.3,-0.5],[-4.86,-2,-0.5,-1.5],[-4.68,-3,-0.8,-2.5],[-4.51,-11,-2,-4.5],[-4.3,-7,-1,-3],[-4.03,-3,-0.5,-1.5],[-3.89,-1,-0.2,-0.5],[-3.54,-1,-0.3,-1],[-3.44,-8,-1.5,-4],[-3.19,-6,-1,-3],[-2.78,-7,-2,-4],[-2.5,-9,-2.5,-5],[-2.08,-12,-3,-6],[-1.94,-10,-2,-5.5],[-1.67,-12,-1.5,-6],[-1.53,-8,-0.5,-4],[-1.39,-2,-0.2,-1.5],[-0.83,-1,0,-0.5],[0,-0.5,0,0],[0.56,-1,-0.5,0],[1.11,-2,-1.5,-0.2],[1.53,-4,-3.5,-0.3],[1.81,-6,-4,-0.5],[2.08,-9,-5.5,-1],[2.64,-12,-7,-1],[2.85,-20,-12.5,-1],[2.99,-13,-7,-1],[3.19,-14,-9,-1],[3.4,-20,-12,-1.5],[3.54,-14,-9,-1],[3.8,-9,-4,-0.5],[3.85,-6,0,-0.3],[3.96,-5,0,-0.3],[5,-6,0,-0.2]]

# ---------------- style ----------------
C_TOT = '#3a3a3a'
C_MN = '#1f45f5'
C_SP = '#e8141c'
W, H = 688.0, 1000.0

fig = plt.figure(figsize=(6.88, 10.0), dpi=100)

def fx(px):
    return px / W

def fy(py):
    return 1.0 - py / H

columns = [
    (labels_a_left, 47.6, 337.0, 3.0, 445.0),
    (labels_a_right, 396.0, 685.0, 3.0, 445.0),
    (labels_b_left, 47.6, 337.5, 511.0, 955.0),
    (labels_b_right, 396.0, 685.0, 511.0, 955.0),
]

for labels, x0, x1, y0, y1 in columns:
    ph = (y1 - y0) / len(labels)
    for i, lab in enumerate(labels):
        top = y0 + i * ph
        ax = fig.add_axes([fx(x0), fy(top + ph), (x1 - x0) / W, ph / H])
        for rows in (spin_up[lab], spin_dn[lab]):
            E = [r[0] for r in rows]
            ax.plot(E, [r[1] for r in rows], color=C_TOT, lw=1.8, solid_joinstyle='round', zorder=2)
            ax.plot(E, [r[2] for r in rows], color=C_MN, lw=1.8, solid_joinstyle='round', zorder=3)
            ax.plot(E, [r[3] for r in rows], color=C_SP, lw=1.5, solid_joinstyle='round', zorder=4)
        ax.axhline(0, color='k', ls=(0, (3, 2)), lw=1.0, zorder=5)
        ax.axvline(0, color='k', ls=(0, (3, 2)), lw=1.0, zorder=5)
        ax.set_xlim(-7, 5)
        ax.set_ylim(-30, 30)
        ax.xaxis.set_major_locator(MultipleLocator(2))
        ax.xaxis.set_minor_locator(MultipleLocator(1))
        ax.yaxis.set_major_locator(MultipleLocator(20))
        ax.yaxis.set_minor_locator(MultipleLocator(10))
        ax.tick_params(which='both', direction='in', top=False, right=False, width=1.0, labelsize=10, pad=3)
        ax.tick_params(which='major', length=4)
        ax.tick_params(which='minor', length=2.5)
        for t in ax.get_xticklabels() + ax.get_yticklabels():
            t.set_fontweight('bold')
        for s in ax.spines.values():
            s.set_linewidth(1.2)
        if i != len(labels) - 1:
            ax.tick_params(labelbottom=False)
        ax.text(-6.6, -20.5, lab, fontsize=10.5, fontweight='bold', ha='left', va='center')
        if i == 0:
            handles = [Line2D([], [], color=C_TOT, lw=2.0),
                       Line2D([], [], color=C_MN, lw=2.0),
                       Line2D([], [], color=C_SP, lw=2.0)]
            ax.legend(handles, legend_labels, loc='upper right', ncol=3, frameon=False,
                      prop={'weight': 'bold', 'size': 10}, handlelength=2.4,
                      handletextpad=0.25, columnspacing=0.35, borderaxespad=0.0,
                      bbox_to_anchor=(1.004, 1.01))
    xc = (x0 + x1) / 2
    fig.text(fx(xc), fy(y1 + 31), "Energy (eV)", ha='center', va='center', fontsize=13, fontweight='bold')
    yl_x = 12 if x0 < 100 else 358
    fig.text(fx(yl_x), fy((y0 + y1) / 2), "DOS (states/eV)", rotation=90, ha='center', va='center', fontsize=13, fontweight='bold')

fig.text(fx(3), fy(12), "(a)", ha='left', va='center', fontsize=10.5, fontweight='bold')
fig.text(fx(3), fy(519), "(b)", ha='left', va='center', fontsize=10.5, fontweight='bold')

fig.savefig("out.png", dpi=100)
